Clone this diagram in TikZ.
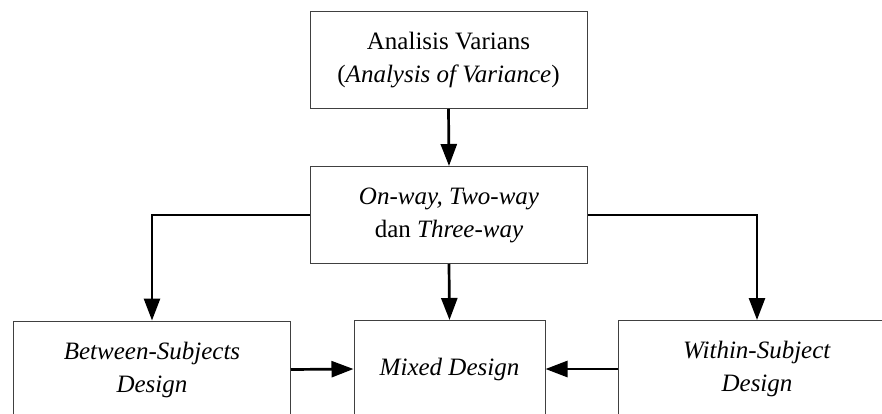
\documentclass[tikz,border=0pt]{standalone}
\usepackage{fontspec}
\setmainfont{Liberation Serif}
\usetikzlibrary{arrows.meta}
\begin{document}
\begin{tikzpicture}[x=1pt,y=-1pt,
  box/.style={draw=black!75,line width=1pt,minimum width=277pt,minimum height=97pt,
    inner sep=0pt,align=center,font=\fontsize{25}{33}\selectfont},
  link/.style={line width=2.7pt,-{Triangle[length=22pt,width=16pt]}}]
  \useasboundingbox (0,0) rectangle (882,414);
  \clip (0,0) rectangle (882,414);
  % top level
  \node[box] (anova) at (448.5,60) {Analisis Varians\\(\textit{Analysis of Variance})};
  % number of factors
  \node[box] (ways) at (449,215) {\textit{On-way, Two-way}\\dan \textit{Three-way}};
  % design types
  \node[box] (between) at (152,369.5) {\textit{Between-Subjects}\\\textit{Design}};
  \node[box,minimum width=191pt] (mixed) at (449.5,369) {\textit{Mixed Design}};
  \node[box,minimum width=278pt] (within) at (757,369) {\textit{Within-Subject}\\\textit{Design}};
  % connectors
  \draw[link] (anova.south) -- (ways.north);
  \draw[link] (ways.west) -| (between.north);
  \draw[link] (ways.east) -| (within.north);
  \draw[link] (ways.south) -- (mixed.north);
  \draw[link] (between.east) -- (mixed.west);
  \draw[link] (within.west) -- (mixed.east);
\end{tikzpicture}
\end{document}
